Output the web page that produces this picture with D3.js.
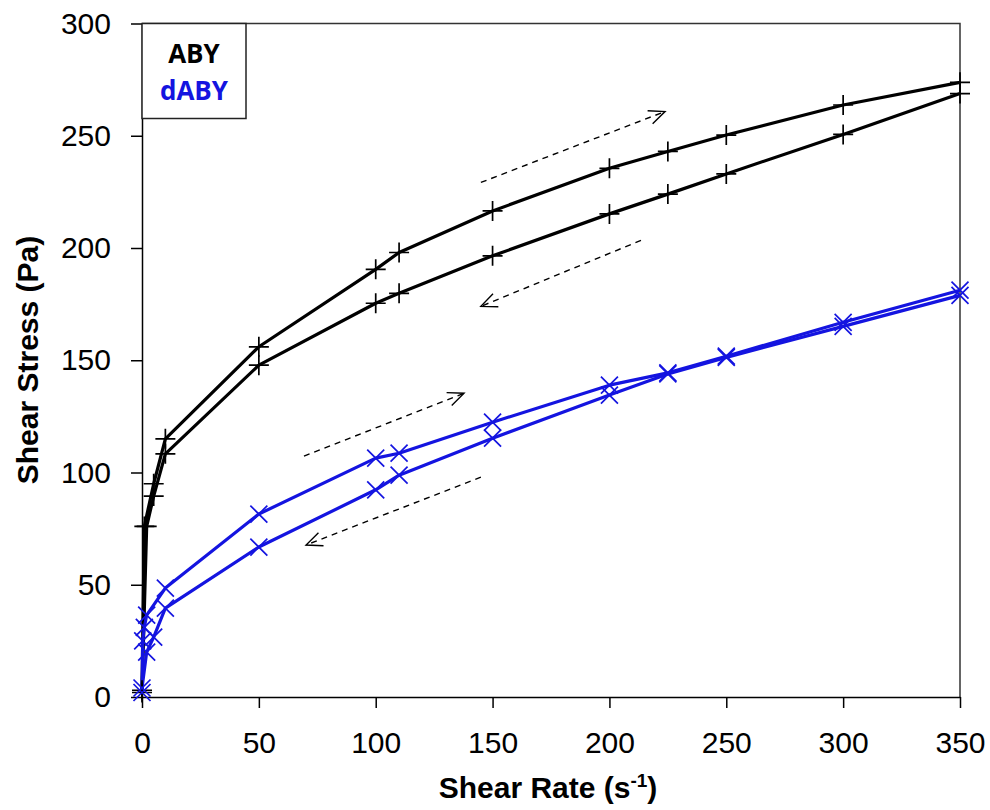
<!DOCTYPE html>
<html>
<head>
<meta charset="utf-8">
<script src="https://cdn.jsdelivr.net/npm/d3@7"></script>
<style>
  body { margin: 0; background: #fff; }
  svg { display: block; }
</style>
</head>
<body>
<svg id="chart" width="990" height="810"></svg>
<script>
// ---- data ----
const xTicks = [0, 50, 100, 150, 200, 250, 300, 350];
const yTicks = [0, 50, 100, 150, 200, 250, 300];

const abyUp = [[0, 3], [1, 76], [5, 95], [10, 115], [50, 156], [100, 190.5], [110, 198], [150, 216.5], [200, 235.5], [225, 243], [250, 250.3], [300, 263.7], [350, 273.8]];
const abyDown = [[350, 268.8], [300, 250.6], [250, 233], [225, 224], [200, 215.2], [150, 196.5], [110, 179.8], [100, 175.4], [50, 147.8], [10, 108.3], [5, 89.5], [2, 76], [0, 2]];
const dabyUp = [[0, 2], [0.3, 25], [1, 31], [2, 36.5], [10, 48.5], [50, 81.5], [100, 106.4], [110, 108.6], [150, 122.4], [200, 138.9], [225, 144.4], [250, 151.8], [300, 166.9], [350, 181.2]];
const dabyDown = [[350, 178.9], [300, 165.1], [250, 151.3], [225, 143.9], [200, 134.5], [150, 115.3], [110, 98.8], [100, 92.3], [50, 66.8], [10, 39.6], [5, 26.7], [2, 20], [0, 4]];

// direction arrows, in data units: [x1, y1, x2, y2] (arrowhead at x2,y2)
const arrows = [
  [145, 229.2, 223.8, 260.8],
  [213.5, 203.4, 145, 174],
  [69.3, 107.3, 137.8, 135.3],
  [145, 97.9, 70.2, 67.7]
];

const legendItems = ["ABY", "dABY"];
const black = "#000000";
const blue = "#1414e0";

// ---- layout ----
const svg = d3.select("#chart");
const m = { left: 142, right: 30, top: 23.5, bottom: 113 };
const W = 990, H = 810;
const x = d3.scaleLinear().domain([0, 350]).range([m.left, W - m.right]);
const y = d3.scaleLinear().domain([0, 300]).range([H - m.bottom, m.top]);

const tickFont = "'Liberation Sans Narrow', 'Arial Narrow', 'Liberation Sans', sans-serif";
const titleFont = "'Liberation Sans Narrow', 'Arial Narrow', 'Liberation Sans', sans-serif";

// frame top/right
svg.append("path")
  .attr("d", `M${x(0)},${y(300)} L${x(350)},${y(300)} L${x(350)},${y(0)}`)
  .attr("fill", "none").attr("stroke", "#333").attr("stroke-width", 1.5);

// axes
const xAxis = svg.append("g").attr("transform", `translate(0,${y(0)})`)
  .call(d3.axisBottom(x).tickValues(xTicks).tickSize(11).tickPadding(24).tickSizeOuter(0));
const yAxis = svg.append("g").attr("transform", `translate(${x(0)},0)`)
  .call(d3.axisLeft(y).tickValues(yTicks).tickSize(11).tickPadding(20).tickSizeOuter(0));
[xAxis, yAxis].forEach(g => {
  g.select(".domain").attr("stroke", "#000").attr("stroke-width", 1.5);
  g.selectAll(".tick line").attr("stroke", "#000").attr("stroke-width", 1.5);
  g.selectAll(".tick text").attr("fill", "#000").attr("font-size", 30).attr("font-family", tickFont);
});

// arrows
const defs = svg.append("defs");
defs.append("marker").attr("id", "ah").attr("viewBox", "0 0 20 20")
  .attr("refX", 18).attr("refY", 10).attr("markerWidth", 20).attr("markerHeight", 20)
  .attr("markerUnits", "userSpaceOnUse").attr("orient", "auto")
  .append("path").attr("d", "M2,3 L18,10 L2,17").attr("fill", "none").attr("stroke", "#000").attr("stroke-width", 1.4);

svg.append("g").selectAll("line").data(arrows).join("line")
  .attr("x1", d => x(d[0])).attr("y1", d => y(d[1]))
  .attr("x2", d => x(d[2])).attr("y2", d => y(d[3]))
  .attr("stroke", "#000").attr("stroke-width", 1.4).attr("stroke-dasharray", "6,5")
  .attr("marker-end", "url(#ah)");

// series
const line = d3.line().x(d => x(d[0])).y(d => y(d[1]));
const series = [
  { data: abyUp, color: black, marker: "plus" },
  { data: abyDown, color: black, marker: "plus" },
  { data: dabyUp, color: blue, marker: "cross" },
  { data: dabyDown, color: blue, marker: "cross" }
];
series.forEach(s => {
  svg.append("path").datum(s.data).attr("d", line)
    .attr("fill", "none").attr("stroke", s.color).attr("stroke-width", 3.2)
    .attr("stroke-linejoin", "round");
});
series.forEach(s => {
  const r = s.marker === "plus" ? 10 : 8.5;
  const pathFor = s.marker === "plus"
    ? `M${-r},0 L${r},0 M0,${-r} L0,${r}`
    : `M${-r},${-r} L${r},${r} M${-r},${r} L${r},${-r}`;
  svg.append("g").selectAll("path").data(s.data).join("path")
    .attr("transform", d => `translate(${x(d[0])},${y(d[1])})`)
    .attr("d", pathFor).attr("fill", "none").attr("stroke", s.color).attr("stroke-width", 1.7);
});

// legend
const lg = svg.append("g");
lg.append("rect").attr("x", x(0)).attr("y", y(300)).attr("width", 104).attr("height", 95)
  .attr("fill", "#fff").attr("stroke", "#222").attr("stroke-width", 1.5);
lg.selectAll("text").data(legendItems).join("text")
  .attr("x", x(0) + 52).attr("y", (d, i) => y(300) + 39 + i * 37)
  .attr("text-anchor", "middle").attr("font-family", "'Open Sans', sans-serif")
  .attr("font-weight", "bold").attr("font-size", 26)
  .attr("fill", (d, i) => i === 0 ? black : blue).text(d => d);

// axis titles
const xt = svg.append("text").attr("x", 548).attr("y", 798).attr("text-anchor", "middle")
  .attr("font-family", titleFont).attr("font-weight", "bold").attr("font-size", 30).attr("fill", "#000");
xt.append("tspan").text("Shear Rate (s");
xt.append("tspan").attr("dy", -11).attr("font-size", 19).text("-1");
xt.append("tspan").attr("dy", 11).text(")");

svg.append("text").attr("transform", "translate(38,360) rotate(-90)").attr("text-anchor", "middle")
  .attr("font-family", titleFont).attr("font-weight", "bold").attr("font-size", 30).attr("fill", "#000")
  .text("Shear Stress (Pa)");
</script>
</body>
</html>
